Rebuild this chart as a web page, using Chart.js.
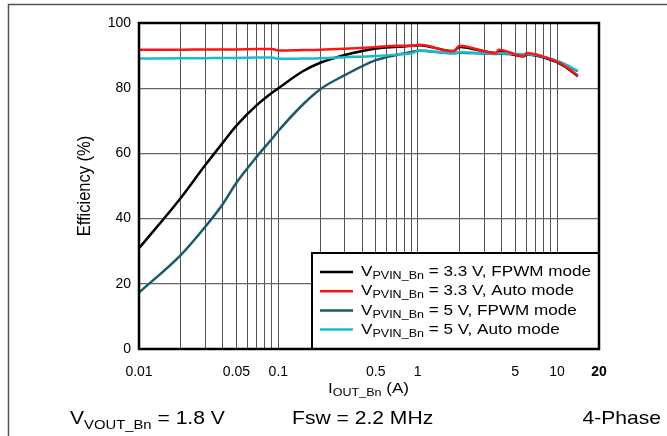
<!DOCTYPE html>
<html>
<head>
<meta charset="utf-8">
<script src="https://cdn.jsdelivr.net/npm/chart.js@4.4.1/dist/chart.umd.min.js"></script>
<style>
  html, body { margin: 0; padding: 0; background: #fff; }
  #wrap { position: relative; width: 667px; height: 436px; }
</style>
</head>
<body>
<div id="wrap"><canvas id="chart" width="667" height="436"></canvas></div>
<script>
// output current (A), shared by all four curves
const currents = [0.01, 0.02, 0.03, 0.04, 0.05, 0.07, 0.09, 0.1, 0.15, 0.2, 0.3, 0.5, 0.7, 0.92, 1.02, 1.8, 2, 3.65, 3.8, 5.8, 6.05, 7.7, 10.7, 14.1];

// efficiency (%)
const eff33Fpwm = [30.9, 46.4, 56.5, 63.3, 68.5, 74.8, 78.6, 80.0, 85.2, 87.8, 90.2, 92.2, 92.7, 93.0, 93.2, 91.4, 92.6, 90.8, 91.2, 89.8, 90.3, 89.6, 87.3, 83.7];
const eff33Auto = [91.8, 91.8, 91.9, 91.9, 91.9, 92.0, 92.0, 91.6, 91.7, 91.8, 92.1, 92.6, 93.0, 93.0, 93.3, 91.3, 93.0, 90.7, 91.8, 89.8, 90.8, 89.9, 87.5, 83.9];
const eff5Fpwm = [17.3, 28.9, 37.6, 44.5, 51, 59, 64.5, 66.9, 75, 79.7, 84, 88.6, 90.2, 91.2, 91.5, 90.7, 90.9, 90.5, 90.6, 90.3, 90.3, 89.7, 87.8, 85.2];
const eff5Auto = [89.1, 89.2, 89.2, 89.3, 89.3, 89.4, 89.4, 89.0, 89.1, 89.2, 89.5, 89.9, 90.3, 90.8, 91.6, 90.8, 91.0, 90.6, 90.7, 90.4, 90.4, 89.8, 87.9, 85.3];

const seriesNames = ["3.3 V, FPWM mode", "3.3 V, Auto mode", "5 V, FPWM mode", "5 V, Auto mode"];
const seriesColors = ["#000000", "#ff1414", "#1c5a69", "#19bccf"];

const gridTicks = [0.01, 0.02, 0.03, 0.04, 0.05, 0.06, 0.07, 0.08, 0.09,
  0.1, 0.2, 0.3, 0.4, 0.5, 0.6, 0.7, 0.8, 0.9,
  1, 2, 3, 4, 5, 6, 7, 8, 9, 10, 20];
const labeledTicks = [0.01, 0.05, 0.1, 0.5, 1, 5, 10, 20];

const FONT = "'Liberation Sans', Arial, sans-serif";
const SX = 1.14; // the source lettering is a little wide

// draw text stretched horizontally, returns its width
function wideText(ctx, s, x, y, size) {
  ctx.font = size + "px " + FONT;
  ctx.save();
  ctx.translate(x, y);
  ctx.scale(SX, 1);
  ctx.fillText(s, 0, 0);
  ctx.restore();
  return ctx.measureText(s).width * SX;
}

// text with a subscript part
function subText(ctx, x, y, main, sub, rest, size) {
  x += wideText(ctx, main, x, y, size);
  x += wideText(ctx, sub, x, y + size * 0.28, Math.round(size * 0.72));
  return x + wideText(ctx, rest, x, y, size);
}

function subWidth(ctx, main, sub, rest, size) {
  ctx.font = size + "px " + FONT;
  let w = ctx.measureText(main).width + ctx.measureText(rest).width;
  ctx.font = Math.round(size * 0.72) + "px " + FONT;
  return (w + ctx.measureText(sub).width) * SX;
}

const decorPlugin = {
  id: "decor",
  beforeDraw(chart) {
    const ctx = chart.ctx;
    ctx.save();
    ctx.fillStyle = "#fff";
    ctx.fillRect(0, 0, chart.width, chart.height);
    // outer frame, only left and top edges fall inside the picture
    ctx.strokeStyle = "#555";
    ctx.lineWidth = 1.5;
    ctx.beginPath();
    ctx.moveTo(8.5, 436);
    ctx.lineTo(8.5, 4.5);
    ctx.lineTo(667, 4.5);
    ctx.stroke();
    ctx.restore();
  },
  afterDatasetsDraw(chart) {
    const ctx = chart.ctx;
    const a = chart.chartArea;
    ctx.save();

    // legend box
    const lx = 312, ly = 253, lw = a.right - lx, lh = a.bottom - ly;
    ctx.fillStyle = "#fff";
    ctx.fillRect(lx, ly, lw, lh);
    ctx.strokeStyle = "#000";
    ctx.lineWidth = 2;
    ctx.strokeRect(lx, ly, lw, lh);
    ctx.textBaseline = "middle";
    ctx.textAlign = "left";
    for (let i = 0; i < seriesNames.length; i++) {
      const yy = 272 + i * 19.2;
      ctx.strokeStyle = seriesColors[i];
      ctx.lineWidth = 2.5;
      ctx.beginPath();
      ctx.moveTo(320, yy);
      ctx.lineTo(353, yy);
      ctx.stroke();
      ctx.fillStyle = "#000";
      subText(ctx, 361, yy, "V", "PVIN_Bn", " = " + seriesNames[i], 15);
    }

    // plot frame
    ctx.strokeStyle = "#000";
    ctx.lineWidth = 2.5;
    ctx.strokeRect(a.left, a.top, a.right - a.left, a.bottom - a.top);

    // axis titles
    ctx.fillStyle = "#000";
    ctx.save();
    ctx.translate(85, (a.top + a.bottom) / 2);
    ctx.rotate(-Math.PI / 2);
    ctx.scale(1, SX);
    ctx.textAlign = "center";
    ctx.font = "16.5px " + FONT;
    ctx.fillText("Efficiency (%)", 0, 0);
    ctx.restore();

    ctx.textAlign = "left";
    const w = subWidth(ctx, "I", "OUT_Bn", " (A)", 15);
    subText(ctx, (a.left + a.right) / 2 - w / 2 - 0.5, 389, "I", "OUT_Bn", " (A)", 15);

    // conditions row
    ctx.textBaseline = "alphabetic";
    subText(ctx, 70, 424, "V", "VOUT_Bn", " = 1.8 V", 18.5);
    wideText(ctx, "Fsw = 2.2 MHz", 292, 424, 18.5);
    ctx.font = "18.5px " + FONT;
    const pw = ctx.measureText("4-Phase").width * SX;
    wideText(ctx, "4-Phase", 661 - pw, 424, 18.5);
    ctx.restore();
  }
};

const ctx = document.getElementById("chart").getContext("2d");
new Chart(ctx, {
  type: "line",
  data: {
    datasets: [
      { label: seriesNames[0], data: pts(eff33Fpwm), borderColor: seriesColors[0], order: 2 },
      { label: seriesNames[1], data: pts(eff33Auto), borderColor: seriesColors[1], order: 0 },
      { label: seriesNames[2], data: pts(eff5Fpwm), borderColor: seriesColors[2], order: 3 },
      { label: seriesNames[3], data: pts(eff5Auto), borderColor: seriesColors[3], order: 1 }
    ]
  },
  options: {
    responsive: false,
    animation: false,
    devicePixelRatio: 1,
    layout: { padding: { left: 0, top: 23, right: 68, bottom: 0 } },
    elements: {
      line: { borderWidth: 2.5, cubicInterpolationMode: "monotone" },
      point: { radius: 0 }
    },
    plugins: { legend: { display: false }, tooltip: { enabled: false } },
    scales: {
      x: {
        type: "logarithmic",
        min: 0.01,
        max: 20,
        afterBuildTicks(scale) {
          scale.ticks = gridTicks.map(v => ({ value: v }));
        },
        afterFit(scale) { scale.height = 87; },
        grid: { color: "#555", lineWidth: 1, drawTicks: false },
        border: { display: false },
        ticks: {
          autoSkip: false,
          maxRotation: 0,
          padding: 15,
          color: "#000",
          font: (c) => ({ family: FONT, size: 14, weight: c.tick && c.tick.value === 20 ? "bold" : "normal" }),
          callback: (v) => labeledTicks.includes(v) ? String(v) : ""
        }
      },
      y: {
        min: 0,
        max: 100,
        afterFit(scale) { scale.width = 139; },
        grid: { color: "#666", lineWidth: 1.3, drawTicks: false },
        border: { display: false },
        ticks: {
          stepSize: 20,
          padding: 8,
          color: "#000",
          font: { family: FONT, size: 14 }
        }
      }
    }
  },
  plugins: [decorPlugin]
});

function pts(ys) {
  return currents.map((x, i) => ({ x: x, y: ys[i] }));
}
</script>
</body>
</html>
